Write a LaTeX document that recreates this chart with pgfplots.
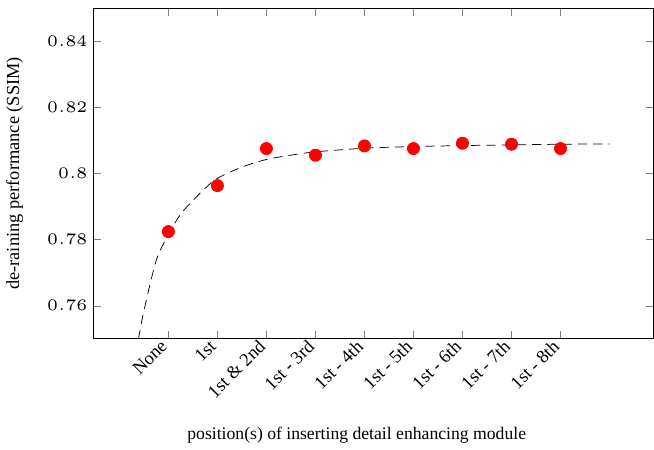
\documentclass[border=0pt]{standalone}
\usepackage{pgfplots}
\pgfplotsset{compat=1.18}
\usepackage{fontspec}
\setmainfont{Liberation Serif}
\begin{document}
\begin{tikzpicture}
\begin{axis}[
  scale only axis,
  width=305pt, height=180pt,
  xmin=-1.54, xmax=9.9,
  ymin=0.75, ymax=0.85,
  xtick={0,1,2,3,4,5,6,7,8},
  xticklabels={None,1st,1st \& 2nd,1st - 3rd,1st - 4th,1st - 5th,1st - 6th,1st - 7th,1st - 8th},
  x tick label style={rotate=45, anchor=east},
  ytick={0.76,0.78,0.80,0.82,0.84},
  yticklabel style={/pgf/number format/fixed, /pgf/number format/precision=2,
    font=\tiny, scale=1.75, inner sep=1.5pt},
  xlabel={position(s) of inserting detail enhancing module},
  ylabel={de-raining performance (SSIM)},
  xlabel style={font=\fontsize{9.6}{11}\selectfont, xshift=-9pt},
  ylabel style={font=\fontsize{10}{12}\selectfont},
  ylabel shift=7pt,
  xlabel shift=7pt,
]
\addplot[black, dash pattern=on 5pt off 3.3pt, smooth, no markers] coordinates {
(-0.61,0.7500) (-0.5,0.7584) (-0.25,0.7736) (0.0,0.7815) (0.25,0.7877)
(0.5,0.7918) (0.75,0.7955) (1.0,0.7985) (1.5,0.8019) (2.0,0.8042)
(2.5,0.8055) (3.0,0.8065) (4.0,0.8076) (5.0,0.8081) (6.0,0.8084)
(7.0,0.8086) (8.0,0.8088) (9.0,0.8089)
};
\addplot[only marks, mark=*, mark size=3.3pt, color=red, mark options={fill=red, draw=red}] coordinates {
(0,0.7824) (1,0.7963) (2,0.8075) (3,0.8055) (4,0.8083)
(5,0.8075) (6,0.8091) (7,0.8088) (8,0.8075)
};
\end{axis}
\path (current axis.north) +(0,4.3pt);
\end{tikzpicture}
\end{document}
